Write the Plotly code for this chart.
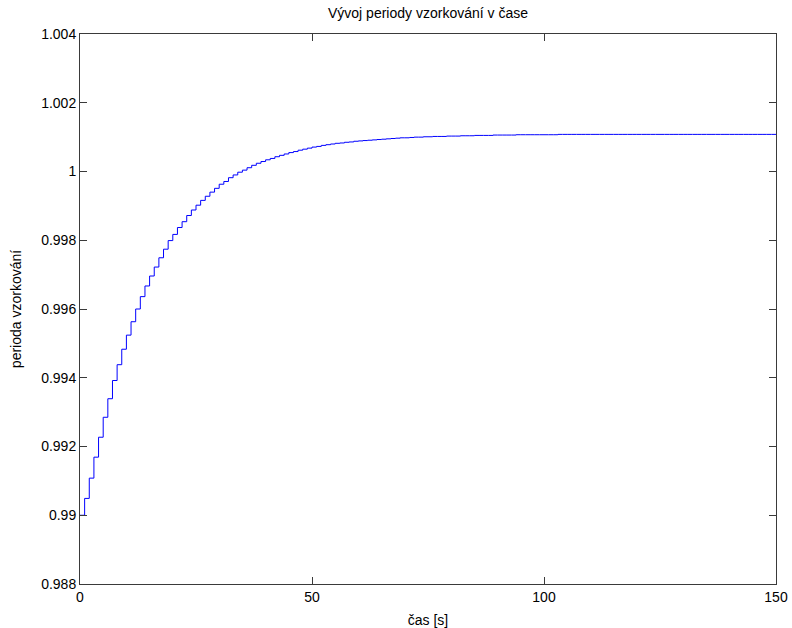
import plotly.graph_objects as go

# Sampling period at each whole second (held until the next second)
time_s = list(range(0, 151))
period = [
    0.99000, 0.99049, 0.99108, 0.99169, 0.99227, 0.99285, 0.99339, 0.99392, 0.99438, 0.99483,
    0.99524, 0.99563, 0.99600, 0.99636, 0.99667, 0.99696, 0.99722, 0.99749, 0.99774, 0.99799,
    0.99817, 0.99837, 0.99854, 0.99872, 0.99888, 0.99902, 0.99916, 0.99928, 0.99940, 0.99951,
    0.99963, 0.99971, 0.99982, 0.99990, 0.99998, 1.00004, 1.00011, 1.00018, 1.00024, 1.00029,
    1.00034, 1.00038, 1.00043, 1.00047, 1.00051, 1.00055, 1.00058, 1.00062, 1.00065, 1.00068,
    1.00071, 1.00073, 1.00076, 1.00078, 1.00080, 1.00082, 1.00083, 1.00085, 1.00086, 1.00088,
    1.00089, 1.00090, 1.00091, 1.00092, 1.00093, 1.00094, 1.00095, 1.00096, 1.00097, 1.00098,
    1.00098, 1.00099, 1.00100, 1.00100, 1.00101, 1.00101, 1.00102, 1.00102, 1.00102, 1.00103,
    1.00103, 1.00103, 1.00104, 1.00104, 1.00104, 1.00105, 1.00105, 1.00105, 1.00105, 1.00106,
    1.00106, 1.00106, 1.00106, 1.00106, 1.00107, 1.00107, 1.00107, 1.00107, 1.00107, 1.00107,
    1.00107, 1.00107, 1.00107, 1.00108, 1.00108, 1.00108, 1.00108, 1.00108, 1.00108, 1.00108,
    1.00108, 1.00108, 1.00108, 1.00108, 1.00108, 1.00108, 1.00108, 1.00108, 1.00108, 1.00108,
    1.00108, 1.00108, 1.00108, 1.00108, 1.00108, 1.00108, 1.00108, 1.00108, 1.00108, 1.00108,
    1.00108, 1.00108, 1.00108, 1.00108, 1.00108, 1.00108, 1.00108, 1.00108, 1.00108, 1.00108,
    1.00108, 1.00108, 1.00108, 1.00108, 1.00108, 1.00108, 1.00108, 1.00108, 1.00108, 1.00108,
    1.00108,
]

x_ticks = [0, 50, 100, 150]
y_ticks = [0.988, 0.990, 0.992, 0.994, 0.996, 0.998, 1.000, 1.002, 1.004]
y_tick_text = ["0.988", "0.99", "0.992", "0.994", "0.996", "0.998", "1", "1.002", "1.004"]

title_text = "Vývoj periody vzorkování v čase"
x_title = "čas [s]"
y_title = "perioda vzorkování"

font_family = "Liberation Sans, Arial, sans-serif"

fig = go.Figure()
fig.add_trace(go.Scatter(
    x=time_s,
    y=period,
    mode="lines",
    line=dict(color="#0000ff", width=1, shape="hv"),
    showlegend=False,
    hoverinfo="skip",
))

axis_common = dict(
    showgrid=False,
    zeroline=False,
    showline=True,
    linecolor="#3a3a3a",
    linewidth=1,
    mirror="allticks",
    ticks="inside",
    ticklen=7,
    tickwidth=1,
    tickcolor="#3a3a3a",
    automargin=False,
    tickfont=dict(family=font_family, size=14, color="#000000"),
)

fig.update_xaxes(
    range=[0, 150],
    tickvals=x_ticks,
    ticktext=[str(v) for v in x_ticks],
    title=dict(text=x_title, font=dict(family=font_family, size=14, color="#000000"), standoff=12),
    **axis_common,
)
fig.update_yaxes(
    range=[0.988, 1.004],
    tickvals=y_ticks,
    ticktext=y_tick_text,
    title=dict(text=y_title, font=dict(family=font_family, size=14, color="#000000"), standoff=16),
    **axis_common,
)

fig.update_layout(
    width=792,
    height=628,
    margin=dict(l=80, r=16, t=34, b=44),
    paper_bgcolor="#ffffff",
    plot_bgcolor="#ffffff",
    title=dict(
        text=title_text,
        x=0.5,
        xanchor="center",
        xref="paper",
        y=1 - 13 / 628,
        yanchor="middle",
        font=dict(family=font_family, size=14, color="#000000"),
    ),
)

fig.write_html("out.html")
